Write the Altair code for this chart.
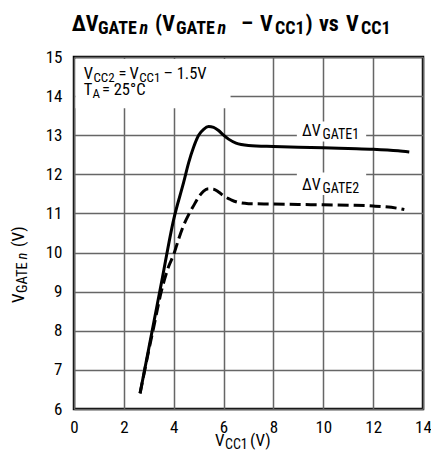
import altair as alt
import pandas as pd

# ---- data ----
vcc1_gate1 = [2.65, 3.0, 3.5, 4.0, 4.4, 4.6, 4.8, 5.0, 5.2, 5.4, 5.6, 5.8, 6.0, 6.2, 6.5, 7.0, 8.0, 9.0, 10.0, 11.0, 12.0, 13.0, 13.45]
vgate1 = [6.4, 7.55, 9.2, 10.85, 11.8, 12.3, 12.7, 13.0, 13.15, 13.22, 13.2, 13.12, 13.0, 12.9, 12.8, 12.74, 12.71, 12.69, 12.68, 12.66, 12.64, 12.6, 12.57]

vcc1_gate2 = [2.65, 3.0, 3.2, 3.5, 3.8, 4.0, 4.2, 4.4, 4.6, 4.8, 5.0, 5.2, 5.4, 5.6, 5.8, 6.0, 6.3, 6.6, 7.0, 8.0, 9.0, 10.0, 11.0, 12.0, 13.0, 13.25]
vgate2 = [6.4, 7.5, 8.1, 9.0, 9.65, 9.95, 10.35, 10.7, 10.97, 11.2, 11.42, 11.57, 11.63, 11.62, 11.55, 11.45, 11.35, 11.28, 11.25, 11.24, 11.23, 11.22, 11.21, 11.19, 11.13, 11.1]

x_ticks = [0, 2, 4, 6, 8, 10, 12, 14]
y_ticks = [6, 7, 8, 9, 10, 11, 12, 13, 14, 15]

# white label backgrounds (data units)
box_x0 = [0.06, 8.94, 8.94]
box_x1 = [6.28, 11.72, 11.72]
box_y0 = [13.69, 12.84, 11.47]
box_y1 = [14.95, 13.35, 12.05]

FONT = "Liberation Sans Narrow, Roboto Condensed, Arial Narrow, Roboto, sans-serif"

df1 = pd.DataFrame({"vcc1": vcc1_gate1, "vgate": vgate1})
df2 = pd.DataFrame({"vcc1": vcc1_gate2, "vgate": vgate2})
boxes = pd.DataFrame({"x0": box_x0, "x1": box_x1, "y0": box_y0, "y1": box_y1})

xs = alt.Scale(domain=[0, 14], nice=False, zero=False)
ys = alt.Scale(domain=[6, 15], nice=False, zero=False)

common_axis = dict(title=None, grid=True, ticks=False, tickSize=0, domain=False,
                   labelFont=FONT, labelFontSize=17, labelColor="black",
                   labelFlush=False, labelOverlap=False,
                   gridColor="#666666", gridWidth=1.5)
xaxis = alt.Axis(values=x_ticks, labelPadding=10, **common_axis)
yaxis = alt.Axis(values=y_ticks, labelPadding=12, **common_axis)

rects = alt.Chart(boxes).mark_rect(fill="white").encode(
    x=alt.X("x0:Q", scale=xs, axis=xaxis), x2="x1",
    y=alt.Y("y0:Q", scale=ys, axis=yaxis), y2="y1")

line1 = alt.Chart(df1).mark_line(color="black", strokeWidth=3, interpolate="monotone").encode(
    x=alt.X("vcc1:Q", scale=xs, axis=xaxis),
    y=alt.Y("vgate:Q", scale=ys, axis=yaxis))

line2 = alt.Chart(df2).mark_line(color="black", strokeWidth=3, strokeDash=[11, 5],
                                 interpolate="monotone").encode(
    x=alt.X("vcc1:Q", scale=xs, axis=xaxis),
    y=alt.Y("vgate:Q", scale=ys, axis=yaxis))

# text segments: (text, x px, y px, size, bold, italic, angle)
segments = [
    # title
    ("ΔV", -2.3, -26, 22, True, False, 0),
    ("GATE", 24, -23, 18, True, False, 0),
    ("n", 65.5, -23, 18, True, True, 0),
    ("(V", 81, -26, 22, True, False, 0),
    ("GATE", 102, -23, 18, True, False, 0),
    ("n", 143.5, -23, 18, True, True, 0),
    ("–", 167, -26, 22, True, False, 0),
    ("V", 186, -26, 22, True, False, 0),
    ("CC1", 201, -23, 18, True, False, 0),
    (")", 231.5, -26, 22, True, False, 0),
    ("vs", 245, -26, 22, True, False, 0),
    ("V", 272, -26, 22, True, False, 0),
    ("CC1", 287, -23, 18, True, False, 0),
    # y-axis title (rotated)
    ("V", -50, 246, 17, False, False, 270),
    ("GATE", -47, 236, 14.5, False, False, 270),
    ("n", -47, 202.5, 14.5, False, True, 270),
    ("(V)", -50, 190, 17, False, False, 270),
    # x-axis title
    ("V", 141, 388.5, 17, False, False, 0),
    ("CC1", 151, 391.5, 14, False, False, 0),
    ("(V)", 176, 388.5, 17, False, False, 0),
    # conditions
    ("V", 9.7, 22, 16.5, False, False, 0),
    ("CC2", 19.4, 25.3, 13, False, False, 0),
    ("=", 44.5, 22, 16.5, False, False, 0),
    ("V", 55.5, 22, 16.5, False, False, 0),
    ("CC1", 65.2, 25.3, 13, False, False, 0),
    ("– 1.5V", 89.5, 22, 16.5, False, False, 0),
    ("T", 9.7, 38, 16.5, False, False, 0),
    ("A", 18.4, 41, 13, False, False, 0),
    ("= 25°C", 28, 38, 16.5, False, False, 0),
    # curve labels
    ("ΔV", 228, 79, 16, False, False, 0),
    ("GATE1", 248.5, 81.5, 14, False, False, 0),
    ("ΔV", 228, 133, 16, False, False, 0),
    ("GATE2", 248.5, 135.5, 14, False, False, 0),
]

one = pd.DataFrame({"k": [0]})
texts = []
for t, px, py, size, bold, italic, ang in segments:
    kw = dict(text=t, font=FONT, fontSize=size, color="black", align="left",
              baseline="alphabetic", fontWeight="bold" if bold else "normal",
              fontStyle="italic" if italic else "normal")
    if ang:
        kw["angle"] = ang
    texts.append(alt.Chart(one).mark_text(**kw).encode(x=alt.value(px), y=alt.value(py)))

chart = alt.layer(rects, line1, line2, *texts).properties(
    width=349, height=352,
    padding={"left": 66, "top": 49, "right": 8, "bottom": 43},
    autosize=alt.AutoSizeParams(type="none"),
    background="white",
).configure_view(stroke="black", strokeWidth=2.5)

chart.save("out.html", embed_options={"renderer": "svg", "actions": False})
